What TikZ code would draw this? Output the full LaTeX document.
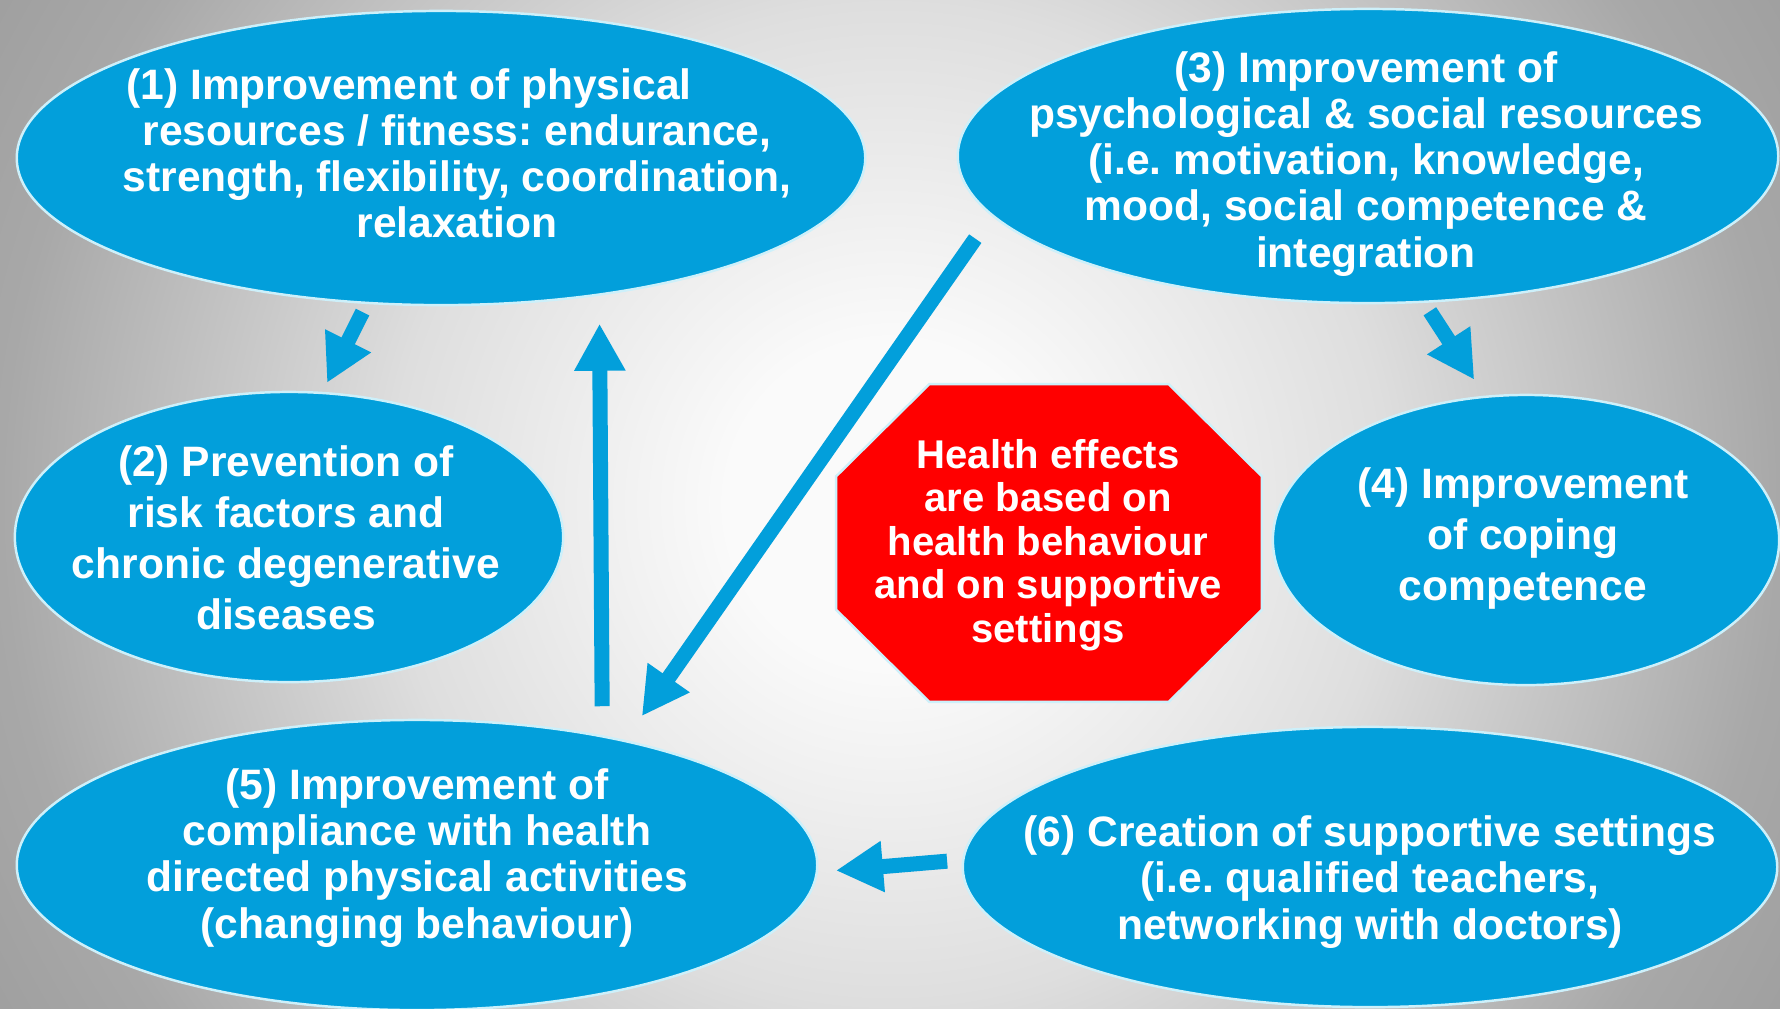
\documentclass[tikz,border=0pt]{standalone}
\usepackage{fontspec}
\setmainfont{Liberation Sans}
\usetikzlibrary{shapes.geometric, arrows.meta}
\frenchspacing

\definecolor{blobblue}{RGB}{2,159,219}
\definecolor{rimcyan}{RGB}{205,240,250}
\definecolor{stopred}{RGB}{255,0,0}
\definecolor{bgcentre}{RGB}{250,250,250}
\definecolor{bgmid}{RGB}{222,222,222}
\definecolor{bgedge}{RGB}{168,168,168}
\definecolor{bgcorner}{RGB}{160,160,160}

% light centre fading to grey towards the sides (25bp = half the shaded square)
\pgfdeclareradialshading{backdrop}{\pgfpointorigin}{%
  color(0bp)=(bgcentre); color(4bp)=(bgcentre); color(12.25bp)=(bgmid);
  color(21.8bp)=(bgedge); color(25bp)=(bgcorner); color(50bp)=(bgcorner)}

\begin{document}
\begin{tikzpicture}[
    x=0.01cm, y=-0.01cm,
    blob/.style={
        ellipse, inner sep=0pt,
        fill=blobblue, draw=rimcyan, line width=0.7pt
    },
    stopsign/.style={fill=stopred, draw=rimcyan, line width=0.7pt},
    blobtext/.style={text=white, align=center,
        font=\bfseries\fontsize{12.1pt}{13.1pt}\selectfont},
    widetext/.style={blobtext,
        font=\bfseries\fontsize{12.1pt}{14.5pt}\selectfont},
    hubtext/.style={blobtext,
        font=\bfseries\fontsize{11.4pt}{12.4pt}\selectfont},
    flow/.style={-{Triangle[length=0.47cm, width=0.48cm]}, blobblue, line width=0.15cm}
]

% === Backdrop ===
\useasboundingbox (0,0) rectangle (1780,1008);
\begin{scope}
    \clip (0,0) rectangle (1780,1008);
    \shade[shading=backdrop] (-130,-516) rectangle (1910,1524);
\end{scope}

% === Ellipses ===
\node[blob, minimum width=8.48cm, minimum height=2.94cm] (e1) at (441,158) {};
\node[blob, minimum width=5.48cm, minimum height=2.90cm] (e2) at (289,537) {};
\node[blob, minimum width=8.20cm, minimum height=2.94cm] (e3) at (1368,156) {};
\node[blob, minimum width=5.06cm, minimum height=2.90cm] (e4) at (1526,540) {};
\node[blob, minimum width=8.00cm, minimum height=2.90cm] (e5) at (417,865) {};
\node[blob, minimum width=8.14cm, minimum height=2.80cm] (e6) at (1370,867) {};

% Centre octagon, corners cut from the hub box
\node[minimum width=4.24cm, minimum height=3.16cm, inner sep=0pt] (hub) at (1049,543) {};
\draw[stopsign]
    ([xshift=0.93cm]hub.north west) -- ([xshift=-0.93cm]hub.north east)
    -- ([yshift=-0.92cm]hub.north east) -- ([yshift=0.92cm]hub.south east)
    -- ([xshift=-0.93cm]hub.south east) -- ([xshift=0.93cm]hub.south west)
    -- ([yshift=0.92cm]hub.south west) -- ([yshift=-0.92cm]hub.north west) -- cycle;

% === Texts ===
\node[blobtext] (t1) at (457,153)
    {(1) Improvement of physical\hspace*{0.96cm}\\resources / fitness: endurance,\\
     strength, flexibility, coordination,\\relaxation};
\node[widetext] (t2) at (286,538)
    {(2) Prevention of\\risk factors and\\chronic degenerative\\diseases};
\node[blobtext] (t3) at (1366,164)
    {(3) Improvement of\\psychological \& social resources\\(i.e. motivation, knowledge,\\
     mood, social competence \&\\integration};
\node[widetext] (t4) at (1523,538)
    {(4) Improvement\\of coping\\competence};
\node[blobtext] (t5) at (417,858)
    {(5) Improvement of\\compliance with health\\directed physical activities\\
     (changing behaviour)};
\node[blobtext] (t6) at (1370,882)
    {(6) Creation of supportive settings\\(i.e. qualified teachers,\\networking with doctors)};
\node[hubtext] (ht) at (1048,545)
    {Health effects\\are based on\\health behaviour\\and on supportive\\settings};

% === Arrows ===
\draw[flow, shorten <=0.09cm, shorten >=0.10cm] (e1.-117.2) -- (e2.77.7);
\draw[flow, shorten <=0.29cm, shorten >=0.28cm] (e5.35.6) -- (e1.-41.0);
\draw[flow, shorten <=0.28cm, shorten >=0.29cm] (e3.-171.1) -- (e5.31.0);
\draw[flow, shorten <=0.10cm, shorten >=0.19cm] (e3.-69.1) -- (e4.106.6);
\draw[flow, shorten <=0.15cm, shorten >=0.18cm] (e6.179.7) -- (e5.-1.1);

\end{tikzpicture}
\end{document}
